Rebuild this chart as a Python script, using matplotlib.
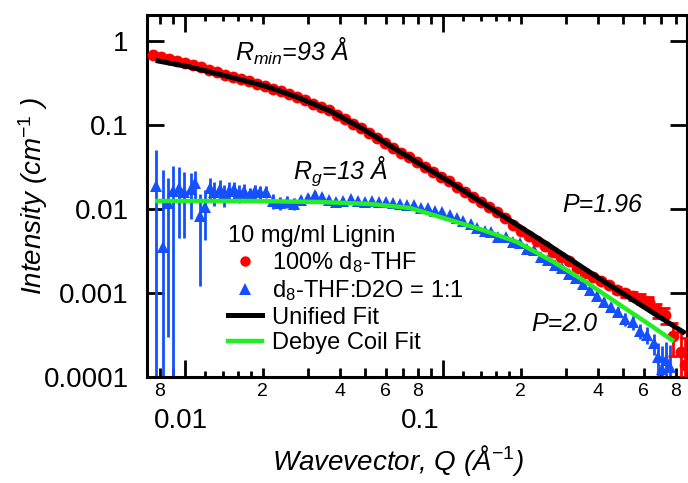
import numpy as np
import matplotlib
matplotlib.use("Agg")
import matplotlib.pyplot as plt
from matplotlib.lines import Line2D
from matplotlib.ticker import FixedLocator, FuncFormatter, NullLocator
from matplotlib.transforms import ScaledTranslation

plt.rcParams['font.family'] = 'Liberation Sans'
plt.rcParams['mathtext.fontset'] = 'custom'
plt.rcParams['mathtext.rm'] = 'Liberation Sans'
plt.rcParams['mathtext.it'] = 'Liberation Sans:italic'
plt.rcParams['mathtext.default'] = 'rm'

RED = '#ff0000'
BLUE = '#1450ff'
GREEN = '#22ee22'

# 100% d8-THF (Q in 1/A, I in 1/cm)
thf_q = [0.00752, 0.00808, 0.00868, 0.00932, 0.01001, 0.01075, 0.01154, 0.01240,
         0.01331, 0.01430, 0.01536, 0.01649, 0.01771, 0.01902, 0.02043, 0.02194,
         0.02357, 0.02531, 0.02718, 0.02919, 0.03135, 0.03367, 0.03617, 0.03884,
         0.04172, 0.04480, 0.04812, 0.05168, 0.05550, 0.05961, 0.06402, 0.06876,
         0.07384, 0.07931, 0.08517, 0.09148, 0.09825, 0.1055, 0.1133, 0.1217,
         0.1307, 0.1404, 0.1508, 0.1620, 0.1739, 0.1868, 0.2006, 0.2155,
         0.2314, 0.2485, 0.2669, 0.2867, 0.3079, 0.3307, 0.3551, 0.3814,
         0.4096, 0.4399, 0.4725, 0.5074, 0.5450, 0.5853, 0.6286, 0.6751,
         0.7251, 0.7787, 0.8364, 0.8700]
thf_i = [0.681, 0.646, 0.612, 0.581, 0.551, 0.520, 0.486, 0.455,
         0.427, 0.399, 0.375, 0.352, 0.332, 0.311, 0.294, 0.270,
         0.254, 0.233, 0.215, 0.196, 0.179, 0.163, 0.149, 0.132,
         0.118, 0.104, 0.0923, 0.0809, 0.0706, 0.0617, 0.0538, 0.0470,
         0.0412, 0.0361, 0.0316, 0.0277, 0.0243, 0.0213, 0.0185, 0.0161,
         0.0140, 0.0122, 0.0106, 0.0091, 0.0078, 0.0065, 0.0055, 0.0048,
         0.0042, 0.0036, 0.0031, 0.0027, 0.0024, 0.0020, 0.00175, 0.00155,
         0.00140, 0.00125, 0.00110, 0.00100, 0.00092, 0.00085, 0.00078, 0.00062,
         0.00055, 0.00031, 0.00020, 0.00014]
thf_err = [0] * 56 + [0.00008, 0.00008, 0.00009, 0.0001, 0.0001, 0.00011,
                      0.00011, 0.00012, 0.00012, 0.00013, 0.00014, 0.00015]

# d8-THF:D2O = 1:1
mix_q = [0.0077, 0.0082, 0.0086, 0.0090, 0.0095, 0.0099, 0.0105, 0.0109,
         0.0114, 0.0120, 0.0125, 0.0130, 0.0136, 0.0142, 0.0148, 0.0155,
         0.0162, 0.0170, 0.0178, 0.0187, 0.0196, 0.0206, 0.0219, 0.0233,
         0.0249, 0.0265, 0.0282, 0.0300, 0.0320, 0.0341, 0.0363, 0.0386,
         0.0411, 0.0438, 0.0467, 0.0497, 0.0529, 0.0564, 0.0600, 0.0639,
         0.0681, 0.0725, 0.0772, 0.0822, 0.0876, 0.0933, 0.0993, 0.106,
         0.113, 0.120, 0.128, 0.136, 0.145, 0.154, 0.164, 0.175,
         0.186, 0.198, 0.211, 0.225, 0.240, 0.255, 0.272, 0.289,
         0.308, 0.328, 0.349, 0.372, 0.396, 0.422, 0.449, 0.478,
         0.509, 0.543, 0.578, 0.615, 0.655, 0.680, 0.705, 0.730, 0.760]
mix_i = [0.0190, 0.0035, 0.0118, 0.0162, 0.0180, 0.0160, 0.0172, 0.0205,
         0.0082, 0.0105, 0.0180, 0.0160, 0.0175, 0.0150, 0.0165, 0.0172,
         0.0155, 0.0165, 0.0150, 0.0162, 0.0158, 0.0160, 0.0125, 0.0118,
         0.0122, 0.0116, 0.0128, 0.0135, 0.0148, 0.0138, 0.0128, 0.0122,
         0.0126, 0.0130, 0.0124, 0.0121, 0.0125, 0.0122, 0.0120, 0.0118,
         0.0115, 0.0112, 0.0111, 0.0103, 0.0102, 0.00935, 0.00931, 0.00852,
         0.00784, 0.00715, 0.00655, 0.00588, 0.00543, 0.00533, 0.00470, 0.00461,
         0.00402, 0.00389, 0.00337, 0.00321, 0.00269, 0.00250, 0.00216, 0.00197,
         0.00168, 0.00152, 0.00129, 0.00110, 0.000932, 0.000788, 0.000678, 0.000594,
         0.000490, 0.000446, 0.000352, 0.000319, 0.000252, 0.000175, 0.000125, 0.000160, 0.000130]
mix_err = [0.031, 0.026, 0.0115, 0.0165, 0.0135, 0.0115, 0.0095, 0.0080,
           0.0070, 0.0062, 0.0055, 0.0050, 0.0048, 0.0045, 0.0042, 0.0040,
           0.0036, 0.0034, 0.0030, 0.0030, 0.0028, 0.0026, 0.0024, 0.0022,
           0.0020, 0.0018, 0.0016, 0.0015, 0.0014, 0.0013, 0.0012, 0.0011,
           0.0010, 0.0009, 0.0009, 0.0008, 0.0008, 0.0007, 0.0007, 0.0006,
           0.0006, 0.0006, 0.0006, 0.0006, 0.0005, 0.0005, 0.0005, 0.00045,
           0.00042, 0.00040, 0.00037, 0.00034, 0.00032, 0.00031, 0.00028, 0.00028,
           0.00025, 0.00025, 0.00022, 0.00022, 0.00019, 0.00019, 0.00017, 0.00016,
           0.00014, 0.00014, 0.00012, 0.00011, 0.00010, 0.00009, 0.00009, 0.00008,
           0.00008, 0.00008, 0.00007, 0.00007, 0.00007, 0.00008, 0.00011, 0.00010, 0.00011]

# fitted curves
unified_q = [0.00786, 0.01046, 0.01494, 0.02042, 0.02717, 0.03648, 0.04897,
             0.06813, 0.1064, 0.1663, 0.2600, 0.4061, 0.6346, 0.8517]
unified_i = [0.578, 0.490, 0.373, 0.291, 0.215, 0.147, 0.0896,
             0.0478, 0.0209, 0.00871, 0.00363, 0.00147, 0.000611, 0.000344]
debye_q = [0.00779, 0.01786, 0.03336, 0.05213, 0.07447, 0.1064, 0.1429,
           0.1935, 0.2600, 0.3489, 0.4853, 0.6346, 0.7722]
debye_i = [0.01245, 0.01245, 0.01211, 0.01148, 0.01028, 0.00740, 0.00562,
           0.00405, 0.00247, 0.00143, 0.000720, 0.000416, 0.000275]

fig = plt.figure(figsize=(6.88, 4.83), dpi=100)
ax = fig.add_axes([0.2132, 0.2195, 0.7853, 0.7495])
ax.set_xscale('log')
ax.set_yscale('log')

# data
ax.errorbar(mix_q, mix_i, yerr=mix_err, fmt='^', color=BLUE, ms=8.5, mew=0,
            ecolor=BLUE, elinewidth=2, capsize=3.8, capthick=2, zorder=2)
tq, ti, te = np.array(thf_q), np.array(thf_i), np.array(thf_err)
ax.plot(tq, ti, 'o', color=RED, ms=8.5, mew=0, zorder=3)
m = te > 0
ax.errorbar(tq[m], ti[m], yerr=te[m], fmt='none', ecolor=RED,
            elinewidth=2, capsize=3.8, capthick=2, zorder=3)
ax.plot(debye_q, debye_i, color=GREEN, lw=3.2, zorder=4)
ax.plot(unified_q, unified_i, color='black', lw=3.6, zorder=5)

ax.set_xlim(0.00710, 0.8824)
ax.set_ylim(1e-4, 2.04)

# ticks
ax.xaxis.set_major_locator(FixedLocator([0.01, 0.1]))
ax.xaxis.set_major_formatter(FuncFormatter(lambda v, p: f'{v:g}'))
minor = [0.008, 0.009]
for dec in (0.01, 0.1):
    minor += [dec * s for s in (1.2, 1.4, 1.6, 1.8, 2, 3, 4, 5, 6, 7, 8, 9)]
minor = [v for v in minor if v < 0.88]
ax.xaxis.set_minor_locator(FixedLocator(minor))


def minor_label(v, p):
    mant = v / 10 ** np.floor(np.log10(v) + 1e-9)
    d = int(round(mant))
    if abs(mant - d) < 1e-6 and d in (2, 4, 6, 8):
        return str(d)
    return ''


ax.xaxis.set_minor_formatter(FuncFormatter(minor_label))
ax.yaxis.set_major_locator(FixedLocator([1e-4, 1e-3, 1e-2, 0.1, 1]))
ax.yaxis.set_major_formatter(FuncFormatter(lambda v, p: f'{v:g}'))
ax.yaxis.set_minor_locator(NullLocator())

ax.tick_params(which='both', direction='in', top=True, right=True, width=2)
ax.tick_params(which='major', length=12, labelsize=20)
ax.tick_params(axis='x', which='major', pad=22)
ax.tick_params(axis='x', which='minor', length=6.5, labelsize=14, pad=4)
ax.tick_params(axis='y', which='major', pad=13)
for s in ax.spines.values():
    s.set_linewidth(2.2)

# shorter ticks for the 1.2 .. 1.8 subdivisions
for tick, loc in zip(ax.xaxis.get_minor_ticks(len(minor)), minor):
    mant = loc / 10 ** np.floor(np.log10(loc) + 1e-9)
    if abs(mant - round(mant)) > 1e-6:
        tick.tick1line.set_markersize(4.3)
        tick.tick2line.set_markersize(4.3)

# decade labels sit a little left of their ticks
for tick, dx in zip(ax.xaxis.get_major_ticks(2), (-4, -23)):
    tick.label1.set_transform(tick.label1.get_transform()
                              + ScaledTranslation(dx / 100, 0, fig.dpi_scale_trans))

ax.set_xlabel(r'Wavevector, Q (Å$^{\mathit{-1}}$)', fontsize=20, style='italic')
ax.set_ylabel(r'Intensity (cm$^{\mathit{-1}}$ )', fontsize=20, style='italic')
ax.xaxis.set_label_coords(0.465, -0.182)
ax.yaxis.set_label_coords(-0.179, 0.5)

# annotations
ax.text(0.269, 0.898, r'$\mathit{R_{min}}$=93 Å', transform=ax.transAxes,
        fontsize=18, style='italic', ha='center', va='center')
ax.text(0.358, 0.569, r'$\mathit{R_{g}}$=13 Å', transform=ax.transAxes,
        fontsize=18, style='italic', ha='center', va='center')
ax.text(0.843, 0.475, 'P=1.96', transform=ax.transAxes,
        fontsize=18, style='italic', ha='center', va='center')
ax.text(0.773, 0.146, 'P=2.0', transform=ax.transAxes,
        fontsize=18, style='italic', ha='center', va='center')

handles = [Line2D([], [], ls='none', marker='o', color=RED, ms=7.5, mew=0),
           Line2D([], [], ls='none', marker='^', color=BLUE, ms=8.5, mew=0),
           Line2D([], [], color='black', lw=3.6),
           Line2D([], [], color=GREEN, lw=3.2)]
labels = [r'100% d$_8$-THF', r'd$_8$-THF:D2O = 1:1', 'Unified Fit', 'Debye Coil Fit']
leg = ax.legend(handles, labels, title='10 mg/ml Lignin', loc='upper left',
                bbox_to_anchor=(0.1505, 0.42), frameon=False, fontsize=17,
                title_fontsize=17, alignment='left', borderaxespad=0,
                borderpad=0, handlelength=1.44, handletextpad=0.42,
                labelspacing=0.14, numpoints=1)

fig.savefig('out.png', dpi=100)
